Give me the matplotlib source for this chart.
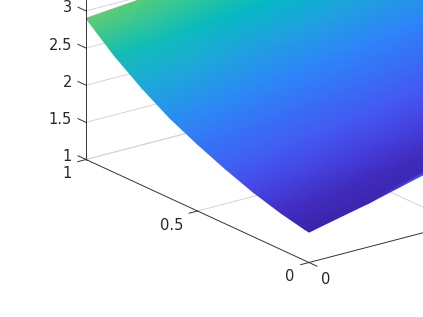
import matplotlib
matplotlib.use('Agg')
import matplotlib.pyplot as plt
from matplotlib.colors import LinearSegmentedColormap
import numpy as np

# surface grid
x_vals = [0, 0.2, 0.4, 0.6, 0.8, 1]
y_vals = [0, 0.02, 0.125, 0.25, 0.375, 0.5, 0.625, 0.75, 0.875, 1]

# height, one row per y value
z_vals = [
    [1.41, 1.59, 1.80, 1.98, 2.10, 2.20],
    [1.42, 1.59, 1.79, 1.96, 2.08, 2.18],
    [1.49, 1.60, 1.71, 1.82, 1.93, 2.04],
    [1.60, 1.70, 1.80, 1.90, 2.00, 2.10],
    [1.74, 1.84, 1.94, 2.04, 2.14, 2.24],
    [1.90, 1.99, 2.08, 2.17, 2.26, 2.35],
    [2.08, 2.17, 2.26, 2.35, 2.44, 2.53],
    [2.31, 2.39, 2.47, 2.55, 2.63, 2.71],
    [2.58, 2.65, 2.72, 2.79, 2.86, 2.93],
    [2.90, 2.97, 3.04, 3.11, 3.18, 3.25],
]

# colour value, same shape
c_vals = [
    [0.00, 0.02, 0.24, 0.25, 0.25, 0.25],
    [0.01, 0.03, 0.05, 0.05, 0.05, 0.05],
    [0.09, 0.075, 0.07, 0.07, 0.07, 0.07],
    [0.17, 0.165, 0.16, 0.155, 0.15, 0.145],
    [0.245, 0.235, 0.23, 0.22, 0.21, 0.20],
    [0.31, 0.30, 0.29, 0.285, 0.275, 0.27],
    [0.39, 0.38, 0.36, 0.355, 0.345, 0.335],
    [0.49, 0.48, 0.46, 0.455, 0.44, 0.43],
    [0.66, 0.64, 0.61, 0.58, 0.56, 0.54],
    [0.91, 0.86, 0.81, 0.78, 0.76, 0.73],
]

x_ticks = [0, 0.5, 1]
y_ticks = [0, 0.5, 1]
z_ticks = [1, 1.5, 2, 2.5, 3]
z_top = 3.3

# colours read from the surface
stops = [(0.0, '#3c23a8'), (0.12, '#4232cc'), (0.2, '#4850f0'), (0.35, '#2e84fa'),
         (0.48, '#1fa6dc'), (0.6, '#02b9c6'), (0.8, '#3fcb8a'), (1.0, '#7ed25a')]
cmap = LinearSegmentedColormap.from_list('surf', stops)


# orthographic view of the box, in picture pixels
def project(x, y, z):
    x, y, z = np.asarray(x, float), np.asarray(y, float), np.asarray(z, float)
    return 309 + 299 * x - 223 * y, 262.5 - 78 * x - 103 * y - 74.3 * (z - 1)


fig = plt.figure(figsize=(4.23, 3.17), dpi=100)
ax = fig.add_axes([0, 0, 1, 1])
ax.set_xlim(0, 423)
ax.set_ylim(317, 0)
ax.axis('off')

grid_col = '#d4d4d4'
axis_col = '#333333'
text_col = '#262626'

# grid on the back wall and the floor
for z in z_ticks:
    ax.plot(*project([0, 1], [1, 1], [z, z]), color=grid_col, lw=0.7, zorder=1)
for y in y_ticks[1:]:
    ax.plot(*project([0, 1], [y, y], [1, 1]), color=grid_col, lw=0.7, zorder=1)
for x in x_ticks[1:]:
    ax.plot(*project([x, x], [0, 1], [1, 1]), color=grid_col, lw=0.7, zorder=1)

# surface
X, Y = np.meshgrid(x_vals, y_vals)
px, py = project(X, Y, np.array(z_vals))
ax.pcolormesh(px, py, np.array(c_vals), cmap=cmap, vmin=0, vmax=1, shading='gouraud', zorder=2)

# axis lines
ax.plot(*project([0, 1], [0, 0], [1, 1]), color=axis_col, lw=0.7, zorder=3)
ax.plot(*project([0, 0], [0, 1], [1, 1]), color=axis_col, lw=0.7, zorder=3)
ax.plot(*project([0, 0], [1, 1], [1, z_top]), color=axis_col, lw=0.7, zorder=3)

# ticks and labels, the x labels past 0 fall outside the picture
for z in z_ticks:
    ax.plot(*project([0, 0], [1, 1.036], [z, z]), color=axis_col, lw=0.7, zorder=3)
    tx, ty = project(0, 1, z)
    ax.text(tx - 14, ty - 3, f'{z:g}', ha='right', va='center', fontsize=10.5, color=text_col)
for y in y_ticks:
    ax.plot(*project([0, -0.028], [y, y], [1, 1]), color=axis_col, lw=0.7, zorder=3)
    tx, ty = project(0, y, 1)
    ax.text(tx - 14.5, ty + 14, f'{y:g}', ha='right', va='center', fontsize=10.5, color=text_col)
for x in x_ticks:
    ax.plot(*project([x, x], [0, -0.036], [1, 1]), color=axis_col, lw=0.7, zorder=3)
    tx, ty = project(x, 0, 1)
    if tx < 423:
        ax.text(tx + 12, ty + 16.5, f'{x:g}', ha='left', va='center', fontsize=10.5, color=text_col)

fig.savefig('out.png', dpi=100)
